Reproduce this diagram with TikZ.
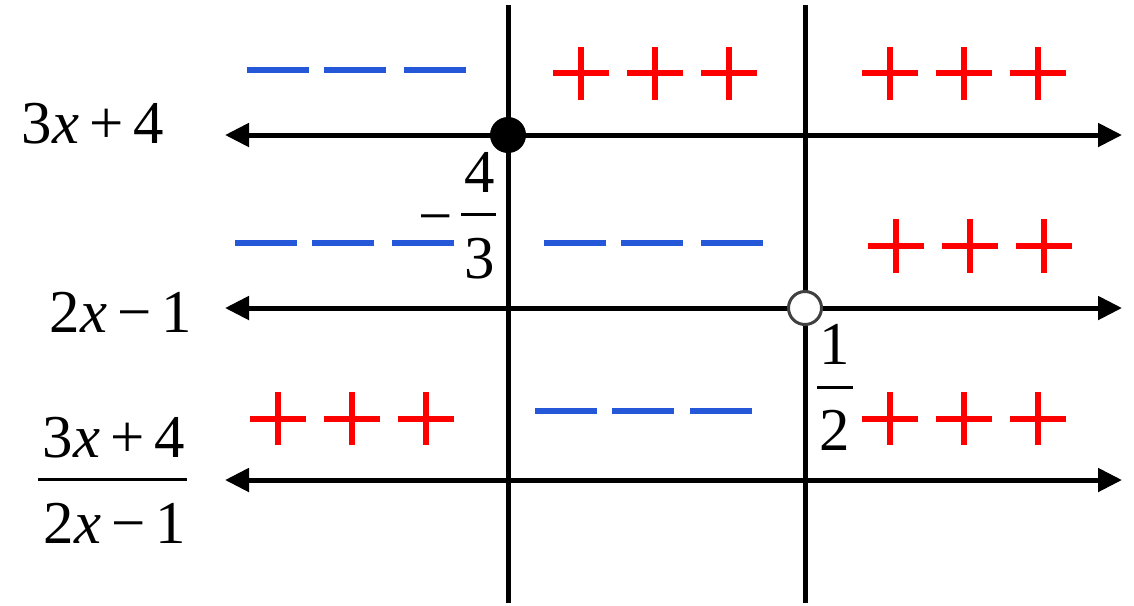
\documentclass[tikz,border=0pt]{standalone}
\usepackage{fontspec}
\setmainfont{Liberation Serif}
\usetikzlibrary{arrows.meta}
\definecolor{signblue}{RGB}{36,88,216}
\definecolor{signred}{RGB}{255,0,0}

\begin{document}
\begin{tikzpicture}[x=0.01cm, y=-0.01cm,
    font=\fontsize{17.3}{20}\selectfont,
    axis/.style={line width=0.05cm,
                 {Triangle[length=0.24cm,width=0.23cm]}-{Triangle[length=0.24cm,width=0.23cm]}},
    cut/.style={line width=0.05cm},
    minussign/.style={signblue, line width=0.06cm},
    plussign/.style={signred, line width=0.055cm},
    lbl/.style={inner sep=0pt, anchor=base},
    bar/.style={line width=0.03cm},
    dot/.style={circle, fill=black, minimum size=0.36cm, inner sep=0pt},
    hole/.style={circle, draw=black!75, line width=0.03cm, fill=white,
                 minimum size=0.33cm, inner sep=0pt}]
\useasboundingbox (0,0) rectangle (1134,605);
% number lines
\coordinate (numL) at (225,135);  \coordinate (numR) at (1122,135);
\coordinate (denL) at (225,308);  \coordinate (denR) at (1122,308);
\coordinate (quoL) at (225,480);  \coordinate (quoR) at (1122,480);
\draw[axis] (numL) -- (numR);
\draw[axis] (denL) -- (denR);
\draw[axis] (quoL) -- (quoR);
% critical values
\coordinate (cutA top) at (508,5);  \coordinate (cutA bot) at (508,603);
\coordinate (cutB top) at (805,5);  \coordinate (cutB bot) at (805,603);
\draw[cut] (cutA top) -- (cutA bot);
\draw[cut] (cutB top) -- (cutB bot);
\node[dot]  (zeroA) at (508,135) {};
\node[hole] (zeroB) at (805,308) {};
% row labels
\node[lbl] (numlbl) at (93,143) {3\textit{x}\,+\,4};
\node[lbl] (denlbl) at (121,332) {2\textit{x}\,−\,1};
\node[lbl] (quonum) at (114,457) {3\textit{x}\,+\,4};
\draw[bar] (38,479) -- (187,479);
\node[lbl] (quoden) at (115,543) {2\textit{x}\,−\,1};
% -4/3
\node[lbl] (minA) at (436,236) {−};
\node[lbl] (fourA) at (480,192) {4};
\draw[bar] (461,214) -- (496,214);
\node[lbl] (threeA) at (480,278) {3};
% 1/2
\node[lbl] (oneB) at (835,364) {1};
\draw[bar] (817,387) -- (853,387);
\node[lbl] (twoB) at (835,450) {2};
% signs of 3x+4
\foreach \a in {247,324,404} \draw[minussign] (\a,70) -- ++(62,0);
\foreach \c in {581,655,729,890,964,1038}
  \draw[plussign] ({\c-28},73) -- ++(56,0) (\c,47) -- ++(0,53);
% signs of 2x-1
\foreach \a in {235,312,392,544,621,701} \draw[minussign] (\a,243) -- ++(62,0);
\foreach \c in {896,970,1044}
  \draw[plussign] ({\c-28},246) -- ++(56,0) (\c,219) -- ++(0,54);
% signs of the quotient
\foreach \c in {278,352,426,890,964,1038}
  \draw[plussign] ({\c-28},419) -- ++(56,0) (\c,392) -- ++(0,53);
\foreach \a in {535,612,690} \draw[minussign] (\a,411) -- ++(62,0);
\end{tikzpicture}
\end{document}
